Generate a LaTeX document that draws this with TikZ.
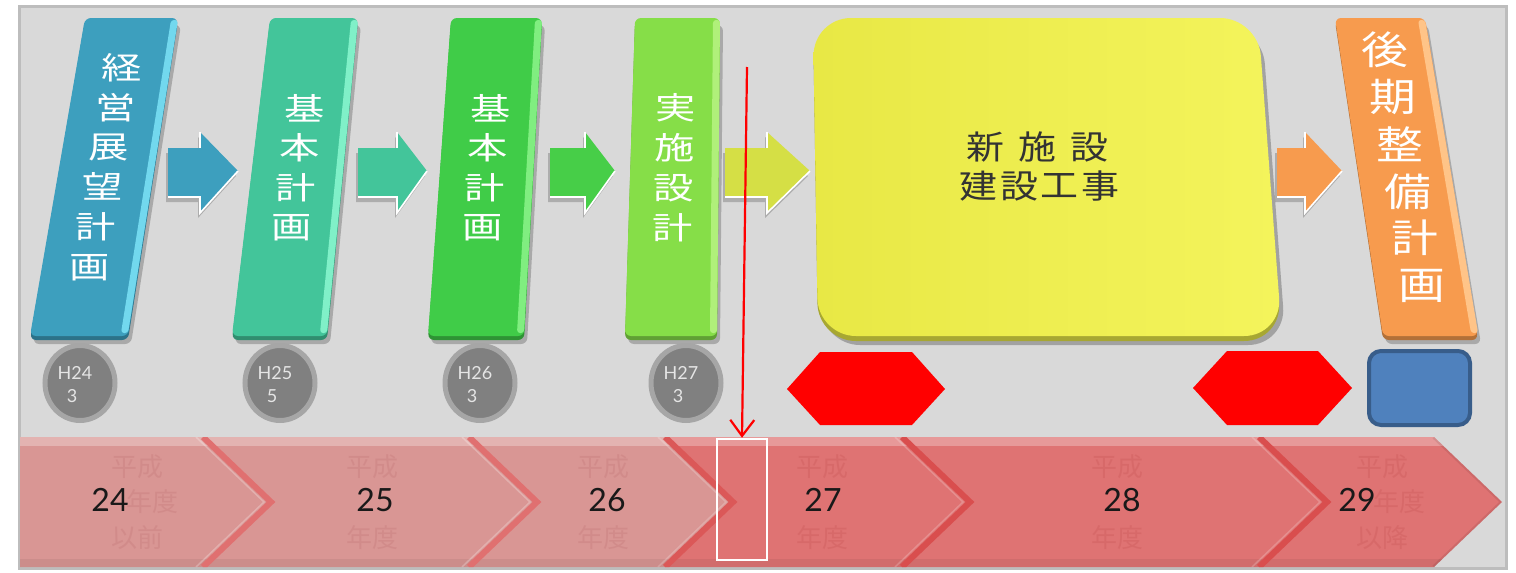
\documentclass[tikz,border=0pt]{standalone}
\usepackage{fontspec}
\setmainfont{Lato}
\newfontfamily\cjk{Noto Sans CJK JP}
\usetikzlibrary{arrows.meta,shapes.geometric}

\definecolor{panel}{HTML}{D9D9D9}
\definecolor{panelline}{HTML}{BDBDBD}
\definecolor{bA}{HTML}{3D9FBE}\definecolor{bAs}{HTML}{72D8EE}
\definecolor{bB}{HTML}{43C59A}\definecolor{bBs}{HTML}{80F0C8}
\definecolor{bC}{HTML}{40CC48}\definecolor{bCs}{HTML}{80EE80}
\definecolor{bD}{HTML}{86DE48}\definecolor{bDs}{HTML}{B0F07A}
\definecolor{yelA}{HTML}{E8E845}\definecolor{yelB}{HTML}{F4F45C}
\definecolor{orgA}{HTML}{F79B4E}\definecolor{orgS}{HTML}{FFC488}
\definecolor{arrD}{HTML}{D5DF45}
\definecolor{chevL}{HTML}{D99694}\definecolor{chevD}{HTML}{DF7373}
\definecolor{edgeL}{HTML}{E07070}\definecolor{edgeD}{HTML}{D94E4E}
\definecolor{ghostL}{HTML}{C97F7F}\definecolor{ghostD}{HTML}{CF5E5E}
\definecolor{circfill}{HTML}{808080}\definecolor{circline}{HTML}{A6A6A6}
\definecolor{blueA}{HTML}{4F81BD}\definecolor{blueB}{HTML}{385D8A}
\definecolor{ytext}{HTML}{333333}

% slanted bar: #1 tl x, #2 tr x, #3 br x, #4 bl x, #5 color, #6 strip colour
\newcommand{\slantbar}[6]{%
  \fill[black,opacity=.22,rounded corners=6pt] (#1+3,25) -- (#2+3,25) -- (#3+3,344) -- (#4+3,344) -- cycle;
  \fill[#5!72!black,rounded corners=6pt] (#1,21) -- (#2,21) -- (#3,340) -- (#4,340) -- cycle;
  \fill[#5,rounded corners=6pt] (#1,18) -- (#2,18) -- (#3,336) -- (#4,336) -- cycle;
  \fill[#6,rounded corners=3pt] (#2-7,20) -- (#2,20) -- (#3,333) -- (#3-7,333) -- cycle;
}
% bar text: #1 name, #2 x at y=18, #3 dx per px, #4 size, #5 stretch, #6 list
\newcommand{\bartext}[6]{%
  \foreach \ch/\yy [count=\i] in {#6}{%
    \pgfmathsetmacro{\xx}{#2+(\yy-18)*(#3)}
    \node[bartxt,font=\cjk\fontsize{#4}{#4}\selectfont] (#1\i) at (\xx,\yy) {\scalebox{#5}[1]{\ch}};
  }}
% block arrow: #1 x0, #2 head x, #3 tip x, #4 colour
\newcommand{\blkarrow}[4]{%
  \fill[black,opacity=.2] (#1-2,153) -- (#2-2,153) -- (#2-2,137) -- (#3-2,176) -- (#2-2,218) -- (#2-2,202) -- (#1-2,202) -- cycle;
  \fill[#4] (#1,148) -- (#2,148) -- (#2,132) -- (#3,171) -- (#2,213) -- (#2,197) -- (#1,197) -- cycle;
  \draw[white,line width=1.6pt] (#1,197) -- (#2,197) -- (#2,213) -- (#3,171);
  \draw[white,line width=1.2pt] (#2,148) -- (#2,132);
}
% chevron: #1 left top x, #2 left notch x, #3 right corner x, #4 tip x, #5 colour
\newcommand{\chev}[5]{%
  \fill[#5] (#1,437) -- (#3,437) -- (#4,502) -- (#3,567) -- (#1,567) -- (#2,502) -- cycle;
}

\begin{document}
\begin{tikzpicture}[x=1pt,y=-1pt,
  bartxt/.style={text=white,inner sep=0pt},
  ytxt/.style={text=ytext,inner sep=0pt,font=\cjk\fontsize{33}{33}\selectfont},
  circ/.style={ellipse,draw=circline,fill=circfill,line width=5pt,minimum width=70pt,minimum height=75pt,inner sep=0pt},
  ctxt/.style={text=white!90!black,inner sep=0pt,font=\fontsize{18}{18}\selectfont},
  num/.style={text=black!90,inner sep=0pt,font=\fontsize{32}{32}\selectfont},
  ghost/.style={inner sep=0pt,font=\cjk\fontsize{26}{26}\selectfont,opacity=.45},
  hexa/.style={fill=red},
]
\useasboundingbox (0,0) rectangle (1516,573);
\fill[white] (0,0) rectangle (1516,573);
\draw[draw=panelline,fill=panel,line width=3pt] (19,6) rectangle (1506,568);

% ---- bars ----
\slantbar{85}{178}{128}{30}{bA}{bAs}
\slantbar{270}{358}{327}{232}{bB}{bBs}
\slantbar{451}{542}{524}{428}{bC}{bCs}
\slantbar{635}{720}{717}{625}{bD}{bDs}
\slantbar{1335}{1425}{1478}{1383}{orgA}{orgS}

\bartext{ka}{130}{-0.163}{31}{1.3}{経/68,営/108,展/147,望/186,計/227,画/268}
\bartext{kb}{314}{-0.1066}{31}{1.3}{基/108,本/148,計/188,画/228}
\bartext{kc}{496}{-0.064}{31}{1.3}{基/108,本/148,計/188,画/228}
\bartext{kd}{677}{-0.02}{31}{1.3}{実/108,施/148,設/188,計/228}
\bartext{kf}{1380}{0.158}{39}{1.2}{後/50,期/97,整/144,備/192,計/238,画/286}

% ---- yellow box ----
\fill[black,opacity=.25,rounded corners=38pt] (817,26) -- (1262,26) -- (1286,345) -- (822,345) -- cycle;
\fill[yelA!72!black,rounded corners=38pt] (813,22) -- (1258,22) -- (1282,341) -- (818,341) -- cycle;
\shade[left color=yelA,right color=yelB,rounded corners=38pt] (813,18) -- (1258,18) -- (1282,336) -- (818,336) -- cycle;
\node[ytxt] (y1) at (985,147) {\scalebox{1.15}[1]{新}};
\node[ytxt] (y2) at (1037,147) {\scalebox{1.15}[1]{施}};
\node[ytxt] (y3) at (1089,147) {\scalebox{1.15}[1]{設}};
\node[ytxt] (y4) at (978,186) {\scalebox{1.15}[1]{建}};
\node[ytxt] (y5) at (1019,186) {\scalebox{1.15}[1]{設}};
\node[ytxt] (y6) at (1059,186) {\scalebox{1.15}[1]{工}};
\node[ytxt] (y7) at (1100,186) {\scalebox{1.15}[1]{事}};

% ---- block arrows ----
\blkarrow{168}{200}{238}{bA}
\blkarrow{358}{397}{427}{bB}
\blkarrow{550}{585}{615}{bC!90!bD}
\blkarrow{725}{767}{810}{arrD}
\blkarrow{1277}{1305}{1342}{orgA}

% ---- circles ----
\node[circ] (c1) at (80,383) {};
\node[circ] (c2) at (280,383) {};
\node[circ] (c3) at (480,383) {};
\node[circ] (c4) at (686,383) {};
\node[ctxt] (c1a) at (75,373) {H24};  \node[ctxt] (c1b) at (72,396) {3};
\node[ctxt] (c2a) at (275,373) {H25}; \node[ctxt] (c2b) at (272,396) {5};
\node[ctxt] (c3a) at (475,373) {H26}; \node[ctxt] (c3b) at (472,396) {3};
\node[ctxt] (c4a) at (681,373) {H27}; \node[ctxt] (c4b) at (678,396) {3};

% ---- hexagons and blue box ----
\fill[hexa] (787,389) -- (820,352) -- (912,352) -- (945,389) -- (912,425) -- (820,425) -- cycle;
\fill[hexa] (1193,388) -- (1227,351) -- (1318,351) -- (1352,388) -- (1318,425) -- (1227,425) -- cycle;
\draw[fill=blueA,draw=blueB,line width=4pt,rounded corners=12pt] (1369,351) rectangle (1470,425);

% ---- timeline chevrons ----
\chev{20}{20}{203}{271}{chevL}
\chev{203}{271}{469}{537}{chevL}
\chev{469}{537}{665}{733}{chevL}
\chev{665}{733}{902}{970}{chevD}
\chev{902}{970}{1259}{1327}{chevD}
\chev{1259}{1327}{1434}{1502}{chevD}
\begin{scope}
  \clip (20,437) -- (1434,437) -- (1502,502) -- (1434,567) -- (20,567) -- cycle;
  \fill[white,opacity=.28] (0,437) rectangle (1516,446);
  \fill[black,opacity=.06] (0,559) rectangle (1516,567);
  \draw[edgeL,line width=6pt] (203,437) -- (271,502) -- (203,567);
  \draw[edgeL,line width=6pt] (469,437) -- (537,502) -- (469,567);
  \draw[edgeD!70!edgeL,line width=6pt] (665,437) -- (733,502) -- (665,567);
  \draw[edgeD,line width=6pt] (902,437) -- (970,502) -- (902,567);
  \draw[edgeD,line width=6pt] (1259,437) -- (1327,502) -- (1259,567);
  \draw[white,opacity=.25,line width=1.5pt] (196,437) -- (264,502) -- (196,567);
  \draw[white,opacity=.25,line width=1.5pt] (462,437) -- (530,502) -- (462,567);
  \draw[white,opacity=.2,line width=1.5pt] (658,437) -- (726,502) -- (658,567);
  \draw[white,opacity=.2,line width=1.5pt] (895,437) -- (963,502) -- (895,567);
  \draw[white,opacity=.2,line width=1.5pt] (1252,437) -- (1320,502) -- (1252,567);
  \draw[black,opacity=.08,line width=4pt] (1434,437) -- (1502,502) -- (1434,567);
\end{scope}

% ghost labels
\node[ghost,text=ghostL] (g1a) at (137,467) {平成};
\node[ghost,text=ghostL] (g1b) at (152,502) {年度};
\node[ghost,text=ghostL] (g1c) at (137,538) {以前};
\node[ghost,text=ghostL] (g2a) at (372,467) {平成};
\node[ghost,text=ghostL] (g2c) at (372,538) {年度};
\node[ghost,text=ghostL] (g3a) at (603,467) {平成};
\node[ghost,text=ghostL] (g3c) at (603,538) {年度};
\node[ghost,text=ghostD] (g4a) at (822,467) {平成};
\node[ghost,text=ghostD] (g4c) at (822,538) {年度};
\node[ghost,text=ghostD] (g5a) at (1117,467) {平成};
\node[ghost,text=ghostD] (g5c) at (1117,538) {年度};
\node[ghost,text=ghostD] (g6a) at (1382,467) {平成};
\node[ghost,text=ghostD] (g6b) at (1399,502) {年度};
\node[ghost,text=ghostD] (g6c) at (1382,538) {以降};

% year numbers
\node[num] (n24) at (110,500) {24};
\node[num] (n25) at (375,500) {25};
\node[num] (n26) at (607,500) {26};
\node[num] (n27) at (823,500) {27};
\node[num] (n28) at (1122,500) {28};
\node[num] (n29) at (1357,500) {29};

% current-time marker
\node[draw=white,line width=2.5pt,minimum width=50pt,minimum height=121pt,inner sep=0pt] (win) at (742,499.5) {};
\coordinate (rtop) at (747,67);
\draw[red,line width=2.2pt,-{Straight Barb[length=16pt,width=24pt,line width=2.2pt]}] (rtop) -- (win.north);
\end{tikzpicture}
\end{document}
